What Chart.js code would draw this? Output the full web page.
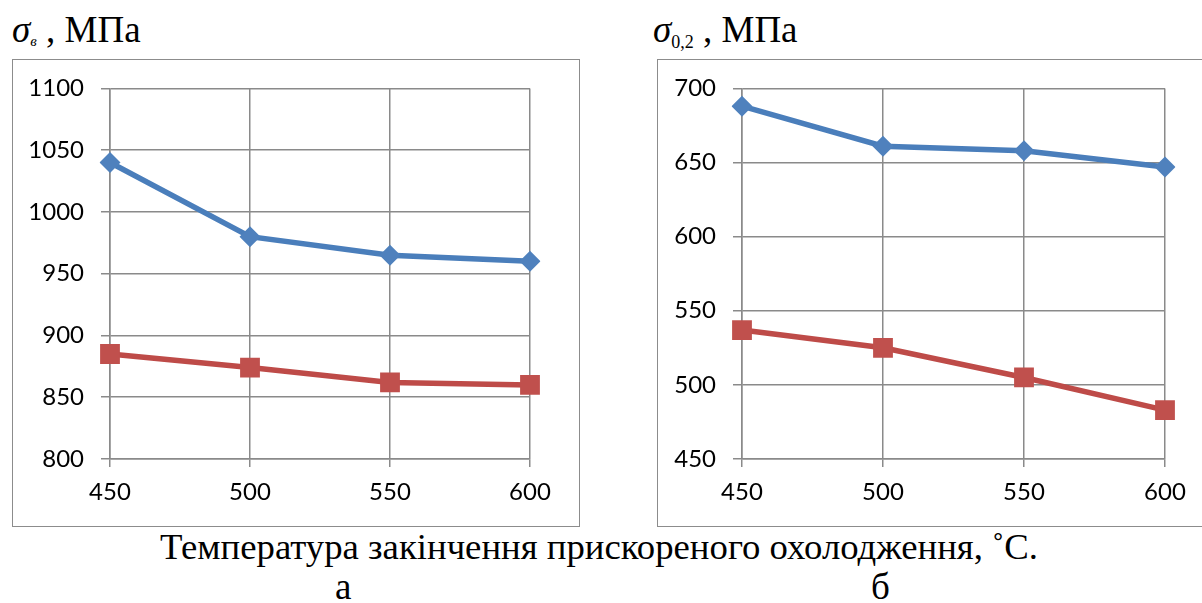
<!DOCTYPE html>
<html>
<head>
<meta charset="utf-8">
<script src="https://cdn.jsdelivr.net/npm/chart.js@4.4.1/dist/chart.umd.min.js"></script>
<style>
  body { margin: 0; background: #fff; width: 1202px; height: 603px; overflow: hidden; position: relative; }
  .box { position: absolute; border: 1.5px solid #8c8c8c; box-sizing: border-box; }
  canvas { position: absolute; }
  .serif { position: absolute; font-family: "Liberation Serif", "Times New Roman", serif; color: #000; white-space: nowrap; line-height: 1; }
  .ttl { font-family: "Liberation Serif", serif; font-size: 37px; }
  .ttl i { font-style: italic; font-family: "Liberation Serif", serif; }
  .ttl sub { font-size: 15px; vertical-align: baseline; position: relative; top: 4px; }
  .ttl sub.s02 { font-size: 18px; top: 6px; }
</style>
</head>
<body>
<div class="box" style="left:12px; top:59px; width:568px; height:468px;"></div>
<div class="box" style="left:657px; top:59px; width:560px; height:468px;"></div>
<canvas id="chartA" width="564" height="468" style="left:14px; top:57px;"></canvas>
<canvas id="chartB" width="543" height="468" style="left:659px; top:57px;"></canvas>

<div class="serif ttl" style="left:12px; top:11px;"><i>σ</i><sub><i>в</i></sub> , МПа</div>
<div class="serif ttl" style="left:653px; top:11px;"><i>σ</i><sub class="s02">0,2</sub> , МПа</div>
<div id="caption" class="serif" style="left:160px; top:529px; font-size:36px; transform-origin:0 0;">Температура закінчення прискореного охолодження, ˚С.</div>
<div class="serif" style="left:335px; top:568px; font-size:37px;">а</div>
<div class="serif" style="left:871px; top:568px; font-size:37px;">б</div>

<script>
// temperatures, °C
var temps = ['450', '500', '550', '600'];

// chart a: tensile strength, MPa
var sigmaB_1 = [1040, 980, 965, 960];
var sigmaB_2 = [885, 874, 862, 860];

// chart b: yield strength, MPa
var sigma02_1 = [688, 661, 658, 647];
var sigma02_2 = [537, 525, 505, 483];

var gridColor = '#8a8a8a';
var tickFont = { family: 'Lato', size: 24 };

function makeChart(id, blue, red, yMin, yMax, axisW, padRight) {
    var ctx = document.getElementById(id);
    return new Chart(ctx, {
        type: 'line',
        data: {
            labels: temps,
            datasets: [{
                data: blue,
                borderColor: '#4a7ebb',
                backgroundColor: '#4f81bd',
                borderWidth: 5.5,
                pointStyle: 'rectRot',
                pointRadius: 10.5,
                pointBorderWidth: 0,
                tension: 0
            }, {
                data: red,
                borderColor: '#be4b48',
                backgroundColor: '#c0504d',
                borderWidth: 5.5,
                pointStyle: 'rect',
                pointRadius: 14,
                pointBorderWidth: 0,
                tension: 0
            }]
        },
        options: {
            responsive: false,
            animation: false,
            devicePixelRatio: 1,
            layout: { padding: { top: 31, right: padRight, left: 0, bottom: 0 } },
            plugins: { legend: { display: false }, tooltip: { enabled: false } },
            scales: {
                x: {
                    offset: false,
                    grid: { color: gridColor, lineWidth: 1.5, tickLength: 8 },
                    border: { color: gridColor, width: 1.5 },
                    ticks: { color: '#000', font: tickFont, padding: 11, maxRotation: 0 },
                    afterFit: function (axis) { axis.height = 66; }
                },
                y: {
                    min: yMin,
                    max: yMax,
                    grid: { color: gridColor, lineWidth: 1.5, tickLength: 9 },
                    border: { color: gridColor, width: 1.5 },
                    ticks: {
                        color: '#000', font: tickFont, padding: 17, stepSize: 50,
                        callback: function (v) { return String(v); }
                    },
                    afterFit: function (axis) { axis.width = axisW; }
                }
            }
        }
    });
}

makeChart('chartA', sigmaB_1, sigmaB_2, 800, 1100, 96, 48);
makeChart('chartB', sigma02_1, sigma02_2, 450, 700, 83, 37);

// squeeze the caption to the width it has in the picture
var cap = document.getElementById('caption');
var w = cap.getBoundingClientRect().width;
cap.style.transform = 'scaleX(' + (878 / w) + ')';
</script>
</body>
</html>
